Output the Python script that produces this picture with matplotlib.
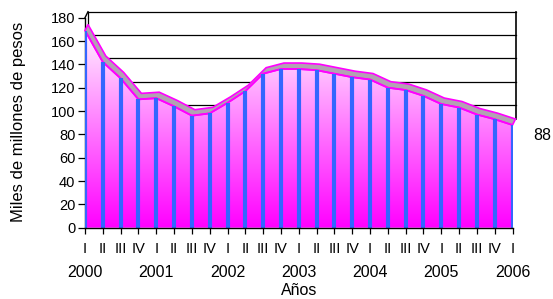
import numpy as np
import matplotlib
matplotlib.use("Agg")
import matplotlib.pyplot as plt
from matplotlib.patches import Polygon
from matplotlib.colors import LinearSegmentedColormap

plt.rcParams['font.family'] = ['Liberation Sans', 'DejaVu Sans']

quarters = ['I', 'II', 'III', 'IV'] * 6 + ['I']
years = ['2000', '2001', '2002', '2003', '2004', '2005', '2006']
values = [169, 142, 128, 110, 111, 104, 96, 98, 107, 117, 132, 136, 136,
          135, 132, 129, 127, 120, 118, 113, 106, 103, 97, 93, 88]
y_ticks = [0, 20, 40, 60, 80, 100, 120, 140, 160, 180]
last_label = '88'

W, H = 553, 299
fig = plt.figure(figsize=(W / 100, H / 100), dpi=100)
x0_px, x1_px = 85, 512.5
y0_px, ytop_px = 227.7, 10.7
ax = fig.add_axes([x0_px / W, (H - y0_px) / H, (x1_px - x0_px) / W, (y0_px - ytop_px) / H])
n = len(values)
x = np.arange(n)
xmax = n - 1
ymax_lim = (y0_px - ytop_px) / (210 / 180)
for s in ax.spines.values():
    s.set_visible(False)
ax.patch.set_alpha(0)

# 3D depth offset (pixels -> data units)
px_x = (x1_px - x0_px) / xmax
px_y = 210 / 180
ddx = 3 / px_x
ddy = 6 / px_y

# back wall gridlines (only those that can show above the area)
for t in y_ticks[1:]:
    if t >= min(values):
        ax.plot([ddx, xmax + ddx], [t + ddy, t + ddy], color='black', lw=0.9,
                zorder=1, clip_on=False)
ax.plot([ddx, ddx], [values[0] + ddy, y_ticks[-1] + ddy], color='black', lw=0.9, zorder=1, clip_on=False)
ax.plot([xmax + ddx, xmax + ddx], [values[-1] + ddy, y_ticks[-1] + ddy], color='black', lw=1.2, zorder=1, clip_on=False)
ax.plot([0, ddx], [y_ticks[-1], y_ticks[-1] + ddy], color='black', lw=1.0, zorder=1, clip_on=False)

# gradient area
area = Polygon([(0, 0)] + list(zip(x, values)) + [(xmax, 0)], closed=True,
               facecolor='none', edgecolor='none')
ax.add_patch(area)
cmap = LinearSegmentedColormap.from_list('mg', ['#FF00FF', '#FFFFFF'])
grad = np.linspace(0, 1, 256).reshape(-1, 1)
im = ax.imshow(grad, extent=[0, xmax, 0, 180], origin='lower', aspect='auto',
               cmap=cmap, zorder=2, interpolation='bilinear')
im.set_clip_path(area)

# top ribbon
front = list(zip(x, values))
back = [(xi + ddx, v + ddy) for xi, v in zip(x, values)]
rib = Polygon(front + back[::-1], closed=True, facecolor='#B2A2B2',
              edgecolor='#FF00FF', lw=1.2, zorder=3, clip_on=False)
ax.add_patch(rib)
ax.plot(x, values, color='#FF00FF', lw=1.3, zorder=3)

# blue drop lines
ax.vlines(x, 0, values, colors='#3366FF', lw=3.0, zorder=4)

# axes lines
ax.plot([0, xmax], [0, 0], color='black', lw=1.0, zorder=5, clip_on=False)
ax.plot([0, 0], [0, 180], color='black', lw=1.0, zorder=1, clip_on=False)

ax.set_xlim(0, xmax)
ax.set_ylim(0, ymax_lim)

ax.set_yticks(y_ticks)
ax.set_yticklabels([str(t) for t in y_ticks], fontsize=10.5)
ax.tick_params(axis='y', length=5, width=0.9, pad=2, color='black')
ax.set_xticks(x)
ax.set_xticklabels(quarters, fontsize=10.5)
ax.tick_params(axis='x', length=4, width=0.9, pad=6, color='black')

for i, yr in enumerate(years):
    ax.annotate(yr, xy=(i * 4, 0), xytext=(0, -45), textcoords='offset pixels',
                ha='center', va='center', fontsize=11.5, annotation_clip=False)
ax.annotate('Años', xy=(12, 0), xytext=(0, -63), textcoords='offset pixels',
            ha='center', va='center', fontsize=11.5, annotation_clip=False)
ax.annotate(last_label, xy=(xmax, values[-1]), xytext=(30, -10), textcoords='offset pixels',
            ha='center', va='center', fontsize=11.5, annotation_clip=False)

fig.text(19 / W, 1 - 122 / H, 'Miles de millones de pesos', rotation=90,
         ha='center', va='center', fontsize=12)

fig.savefig('out.png', dpi=100)
